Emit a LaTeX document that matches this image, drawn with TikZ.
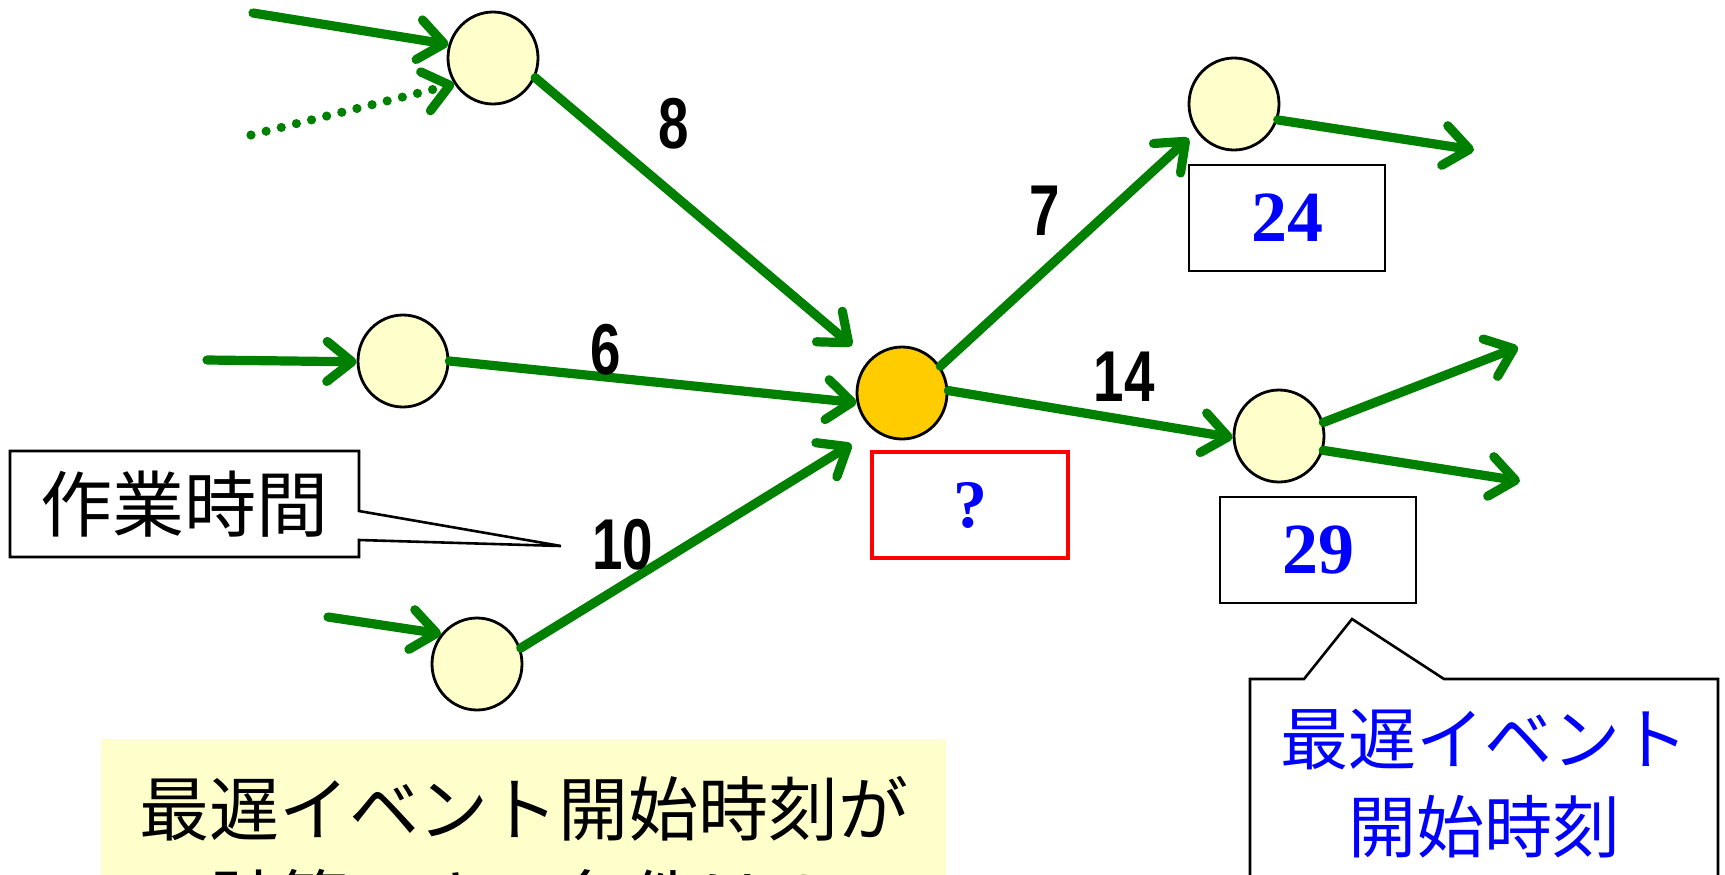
\documentclass[tikz,border=0pt]{standalone}
\usepackage{fontspec}
\setmainfont{Liberation Serif}
\newfontfamily\jpfont{Noto Sans CJK JP}
\newfontfamily\numfont{Liberation Sans}
\usetikzlibrary{arrows.meta,shapes.geometric}
\definecolor{evfill}{RGB}{255,255,204}
\definecolor{evorange}{RGB}{255,204,0}
\definecolor{actgreen}{RGB}{0,128,0}
\definecolor{noteyellow}{RGB}{255,255,204}
\definecolor{valblue}{RGB}{0,0,255}
\begin{document}
\begin{tikzpicture}[x=0.5pt,y=-0.5pt,
  ev/.style={ellipse, draw=black, line width=1.4pt, fill=evfill,
    minimum width=45pt, minimum height=46pt, inner sep=0pt},
  act/.style={draw=actgreen, line width=4.6pt, line cap=round,
    -{Straight Barb[length=12.5pt,width=20pt,round]}},
  dur/.style={font=\numfont\bfseries\fontsize{36pt}{38pt}\selectfont, xscale=0.76, inner sep=0pt},
  valbox/.style={draw=black, line width=1.3pt, minimum width=98pt, minimum height=53pt,
    inner sep=0pt, text=valblue, font=\bfseries\fontsize{36pt}{40pt}\selectfont},
  jptext/.style={font=\jpfont\fontsize{#1}{#1}\selectfont, inner sep=0pt},
  jptext/.default=35pt
]
\useasboundingbox (0,0) rectangle (1725,874);
\fill[white] (0,0) rectangle (1725,874);

% events
\node[ev] (A) at (493,58) {};
\node[ev] (B) at (403,361) {};
\node[ev] (C) at (477,664) {};
\node[ev, fill=evorange] (D) at (902,393) {};
\node[ev] (E) at (1234,104) {};
\node[ev] (F) at (1279,436) {};

% free ends
\coordinate (inA1) at (253,13);
\coordinate (inA2) at (251,135);
\coordinate (inB) at (207,360);
\coordinate (inC) at (328,617);
\coordinate (outE) at (1474,150);
\coordinate (outF1) at (1518,347);
\coordinate (outF2) at (1520,481);

% activities
\draw[act] (inA1) -- (A.163);
\draw[act, dash pattern=on 0pt off 7.8pt] (inA2) -- (A.214);
\draw[act] (inB) -- (B.181);
\draw[act] (inC) -- (C.140);
\draw[act, shorten >=11pt] (A.-25) -- (D.135);
\draw[act] (B.east) -- (D.192);
\draw[act, shorten >=13pt] (C.20) -- (D.233);
\draw[act, shorten >=5pt] (D.35) -- (E.216);
\draw[act] (D.3) -- (F.182);
\draw[act] (E.-20) -- (outE);
\draw[act] (F.17) -- (outF1);
\draw[act] (F.-18) -- (outF2);

% durations
\node[dur] (d8) at (674,124) {8};
\node[dur] (d6) at (606,350) {6};
\node[dur] (d10) at (623,545) {10};
\node[dur] (d7) at (1045,211) {7};
\node[dur] (d14) at (1124,377) {14};

% value boxes
\node[valbox] (v24) at (1287,218) {24};
\node[valbox, draw=red, line width=1.8pt, font=\bfseries\fontsize{34pt}{38pt}\selectfont] (vq) at (970,505) {?};
\node[valbox] (v29) at (1318,550) {29};

% callout: 作業時間
\draw[line width=1.3pt, fill=white, line join=miter]
  (10,451) -- (359,451) -- (359,511) -- (561,546) -- (359,540) -- (359,557) -- (10,557) -- cycle;
\node[jptext=36pt] (work) at (184,504) {作業時間};

% callout: 最遅イベント開始時刻
\draw[line width=1.3pt, fill=white]
  (1250,920) -- (1250,679) -- (1304,679) -- (1352,619) -- (1444,679) -- (1718,679) -- (1718,920) -- cycle;
\node[jptext=34pt, text=valblue] (late1) at (1484,739) {最遅イベント};
\node[jptext=34pt, text=valblue] (late2) at (1484,827) {開始時刻};

% question box
\fill[noteyellow] (101,739) rectangle (946,920);
\node[jptext=35pt] (q1) at (524,809) {最遅イベント開始時刻が};
\node[jptext=35pt] (q2) at (524,902) {計算できる条件は？};
\end{tikzpicture}
\end{document}
